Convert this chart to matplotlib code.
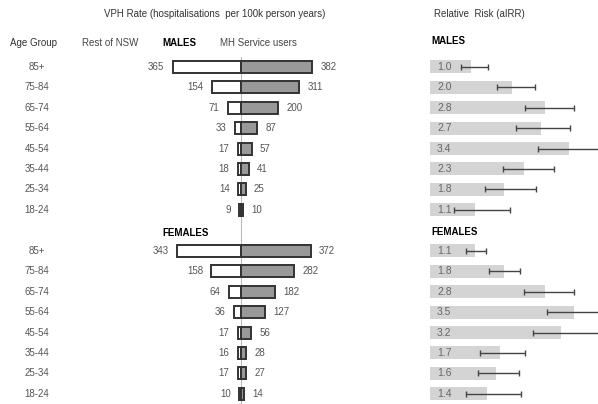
import numpy as np
import matplotlib.pyplot as plt
import matplotlib.transforms as mtransforms

plt.rcParams['font.family'] = ['Liberation Sans', 'DejaVu Sans']

# data
age_groups = ['85+', '75-84', '65-74', '55-64', '45-54', '35-44', '25-34', '18-24']
male_nsw = [365, 154, 71, 33, 17, 18, 14, 9]
male_mh = [382, 311, 200, 87, 57, 41, 25, 10]
female_nsw = [343, 158, 64, 36, 17, 16, 17, 10]
female_mh = [372, 282, 182, 127, 56, 28, 27, 14]

male_rr = [1.0, 2.0, 2.8, 2.7, 3.4, 2.3, 1.8, 1.1]
male_lo = [0.76, 1.63, 2.32, 2.10, 2.63, 1.77, 1.33, 0.59]
male_hi = [1.41, 2.55, 3.50, 3.41, 4.40, 3.02, 2.58, 1.95]
female_rr = [1.1, 1.8, 2.8, 3.5, 3.2, 1.7, 1.6, 1.4]
female_lo = [0.88, 1.45, 2.30, 2.85, 2.50, 1.22, 1.16, 0.87]
female_hi = [1.37, 2.20, 3.51, 4.40, 4.40, 2.32, 2.18, 2.21]

W, H = 598, 404
fig = plt.figure(figsize=(W / 100, H / 100), dpi=100)

# layout (pixels)
step = 20.45
male_y = 66.7 + step * np.arange(len(age_groups))
female_y = 250.7 + step * np.arange(len(age_groups))
bar_h = 12
centre_px = 241
rate_scale = 0.187   # px per unit
rr_x0 = 430
rr_scale = 41.0      # px per unit

txt = '#555555'
fs = 7

def fx(px):
    return px / W

def fy(py):
    return 1 - py / H

# pyramid axes
ax = fig.add_axes([0, 0, 1, 1])
ax.set_xlim(-centre_px / rate_scale, (W - centre_px) / rate_scale)
ax.set_ylim(H, 0)
ax.axis('off')

ax.plot([0, 0], [57, H], color='#bbbbbb', lw=0.8, zorder=1)

for ys, left, right in [(male_y, male_nsw, male_mh), (female_y, female_nsw, female_mh)]:
    ax.barh(ys, [-v for v in left], height=bar_h, color='white', edgecolor='#333333', lw=1.4, zorder=2)
    ax.barh(ys, right, height=bar_h, color='#999999', edgecolor='#333333', lw=1.4, zorder=2)
    for y, l, r in zip(ys, left, right):
        ax.annotate(str(l), xy=(-l, y), xytext=(-6, 0), textcoords='offset points',
                    ha='right', va='center', fontsize=fs, color=txt)
        ax.annotate(str(r), xy=(r, y), xytext=(6, 0), textcoords='offset points',
                    ha='left', va='center', fontsize=fs, color=txt)

trans = mtransforms.blended_transform_factory(ax.transAxes, ax.transData)
for ys in (male_y, female_y):
    for y, g in zip(ys, age_groups):
        ax.text(fx(37), y, g, transform=trans, ha='center', va='center', fontsize=fs, color=txt)

# relative risk axes
ax2 = fig.add_axes([0, 0, 1, 1])
ax2.patch.set_alpha(0)
ax2.set_xlim(-rr_x0 / rr_scale, (W - rr_x0) / rr_scale)
ax2.set_ylim(H, 0)
ax2.axis('off')

for ys, rr, lo, hi in [(male_y, male_rr, male_lo, male_hi), (female_y, female_rr, female_lo, female_hi)]:
    ax2.barh(ys, rr, height=13, color='#d4d4d4', zorder=1)
    rr = np.array(rr)
    ax2.errorbar(rr, ys, xerr=[rr - np.array(lo), np.array(hi) - rr], fmt='none',
                 ecolor='#444444', elinewidth=1.0, capsize=2, capthick=1.0, zorder=2)
    for y, v in zip(ys, rr):
        ax2.annotate(f'{v:.1f}', xy=(0, y), xytext=(5, 0), textcoords='offset points',
                     ha='left', va='center', fontsize=7.5, color='#666666', zorder=3)

# headers
fig.text(fx(215), fy(14), 'VPH Rate (hospitalisations  per 100k person years)',
         ha='center', va='center', fontsize=fs, color='#333333')
fig.text(fx(434), fy(14), 'Relative  Risk (aIRR)', ha='left', va='center', fontsize=fs, color='#333333')
fig.text(fx(34), fy(43), 'Age Group', ha='center', va='center', fontsize=fs, color='#333333')
fig.text(fx(110), fy(43), 'Rest of NSW', ha='center', va='center', fontsize=fs, color='#444444')
fig.text(fx(162), fy(43), 'MALES', ha='left', va='center', fontsize=fs, fontweight='bold', color='black')
fig.text(fx(258), fy(43), 'MH Service users', ha='center', va='center', fontsize=fs, color='#444444')
fig.text(fx(162), fy(233), 'FEMALES', ha='left', va='center', fontsize=fs, fontweight='bold', color='black')
fig.text(fx(431), fy(41), 'MALES', ha='left', va='center', fontsize=fs, fontweight='bold', color='black')
fig.text(fx(431), fy(232), 'FEMALES', ha='left', va='center', fontsize=fs, fontweight='bold', color='black')

fig.savefig('out.png', dpi=100)
